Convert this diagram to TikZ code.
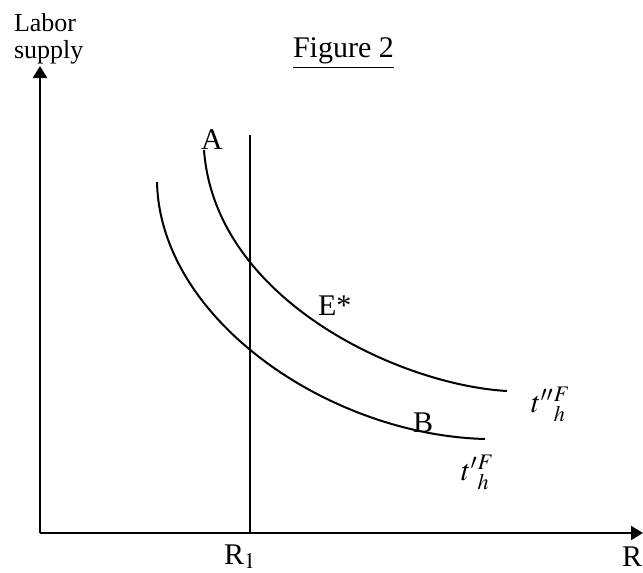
\documentclass[tikz,border=0pt]{standalone}
\usepackage{mathptmx}
\usepackage{fontspec}
\setmainfont{Liberation Serif}
\usepackage{tikz}
\usetikzlibrary{positioning, arrows.meta}

\tikzset{
  lbl/.style={inner sep=0pt, font=\fontsize{15}{17}\selectfont},
  axlbl/.style={inner sep=0pt, font=\fontsize{13}{15}\selectfont}
}

\begin{document}
\begin{tikzpicture}[x=0.5pt, y=-0.5pt, line width=1pt]
      \useasboundingbox (0,0) rectangle (643,573);

      % Axes
      \coordinate (o) at (40,533);
      \coordinate (ytop) at (40,66);
      \coordinate (xend) at (643,533);
      \draw[-{Triangle[length=6pt, width=7pt]}] (o) -- (ytop);
      \draw[-{Triangle[length=6pt, width=7pt]}] (o) -- (xend);

      % Vertical line at R1
      \coordinate (r1top) at (250,135);
      \coordinate (r1bot) at (250,533);
      \draw[line width=0.8pt] (r1top) -- (r1bot);

      % Curves
      \coordinate (a2) at (204,150);
      \coordinate (b2) at (507,391);
      \coordinate (a1) at (157,182);
      \coordinate (b1) at (485,439);
      \draw (a2) .. controls (215,300) and (400,385) .. (b2);
      \draw (a1) .. controls (160,320) and (330,435) .. (b1);

      % Labels
      \node[axlbl, anchor=base west] (labor) at (13,32) {Labor};
      \node[axlbl, anchor=base west] (supply) at (13,58) {supply};
      \node[lbl, anchor=base west] (fig) at (292,57) {\underline{Figure 2}};
      \node[lbl, anchor=base west] (A) at (200,149) {A};
      \node[lbl, anchor=base west] (E) at (317,315) {E*};
      \node[lbl, anchor=base west] (B) at (412,432) {B};
      \node[lbl, anchor=base west] (tpp) at (530,412) {$t''{}^{F}_{h}$};
      \node[lbl, anchor=base west] (tp) at (460,480) {$t'{}^{F}_{h}$};
      \node[lbl, anchor=base west] (R1) at (223,564) {R$_1$};
      \node[lbl, anchor=base west] (R) at (621,566) {R};
\end{tikzpicture}
\end{document}
